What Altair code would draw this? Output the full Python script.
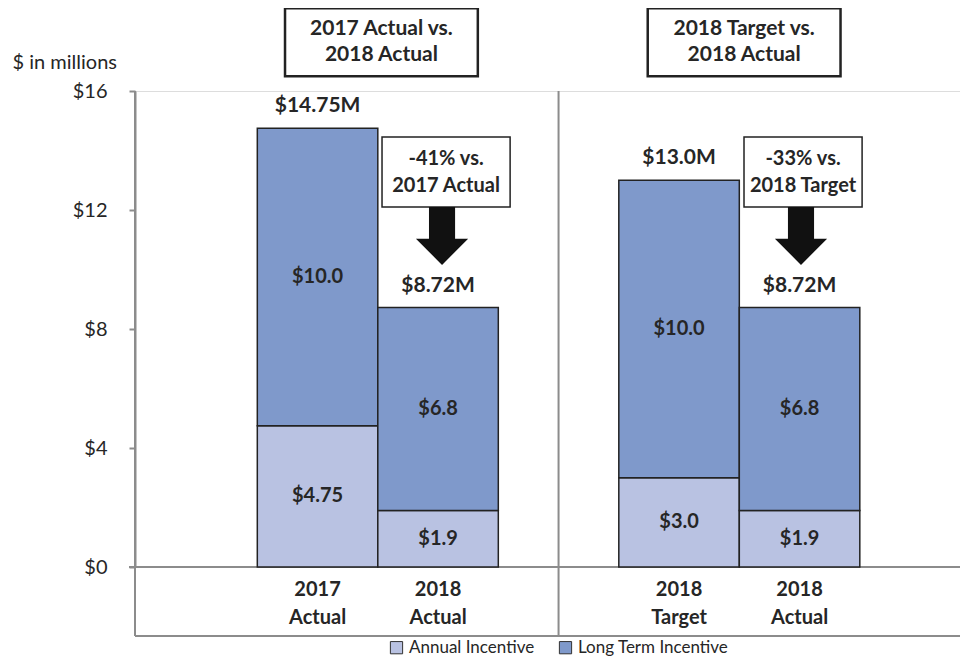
import altair as alt
import pandas as pd

# ---- data ----
cat_line1 = ["2017", "2018", "2018", "2018"]
cat_line2 = ["Actual", "Actual", "Target", "Actual"]
positions = [0, 1, 3, 4]
annual = [4.75, 1.9, 3.0, 1.9]
long_term = [10.0, 6.82, 10.0, 6.82]
annual_labels = ["$4.75", "$1.9", "$3.0", "$1.9"]
long_term_labels = ["$10.0", "$6.8", "$10.0", "$6.8"]
total_labels = ["$14.75M", "$8.72M", "$13.0M", "$8.72M"]
series = ["Annual Incentive", "Long Term Incentive"]
colors = ["#B9C2E2", "#7F99CB"]

header_texts = ["2017 Actual vs.\n2018 Actual", "2018 Target vs.\n2018 Actual"]
header_x = [-0.27, 2.74]
header_x2 = [1.33, 4.34]
header_y = [16.5, 16.5]
header_y2 = [18.78, 18.78]

change_texts = ["-41% vs.\n2017 Actual", "-33% vs.\n2018 Target"]
change_x = [0.535, 3.539]
change_x2 = [1.598, 4.519]
change_y = [12.10, 12.10]
change_y2 = [14.45, 14.45]
arrow_x = [1.033, 4.012]
arrow_y = [11.13, 11.13]

y_ticks = [0, 4, 8, 12, 16]

W, H = 825, 476
FONT = "Lato"
TXT = "#262626"
GREY = "#8C8C8C"

# ---- tables ----
rows = []
for i, p in enumerate(positions):
    rows.append(dict(pos=p, x0=p - 0.5, x1=p + 0.5, series=series[0], y0=0.0,
                     y1=annual[i], mid=annual[i] / 2, label=annual_labels[i]))
    rows.append(dict(pos=p, x0=p - 0.5, x1=p + 0.5, series=series[1], y0=annual[i],
                     y1=annual[i] + long_term[i], mid=annual[i] + long_term[i] / 2,
                     label=long_term_labels[i]))
bars_df = pd.DataFrame(rows)

tot_df = pd.DataFrame(dict(pos=positions,
                           total=[a + b for a, b in zip(annual, long_term)],
                           label=total_labels,
                           cat=[a + "\n" + b for a, b in zip(cat_line1, cat_line2)]))

hdr_df = pd.DataFrame(dict(x=header_x, x2=header_x2, y=header_y, y2=header_y2,
                           text=header_texts,
                           xm=[(a + b) / 2 for a, b in zip(header_x, header_x2)],
                           ym=[(a + b) / 2 for a, b in zip(header_y, header_y2)]))
chg_df = pd.DataFrame(dict(x=change_x, x2=change_x2, y=change_y, y2=change_y2,
                           text=change_texts,
                           xm=[(a + b) / 2 for a, b in zip(change_x, change_x2)],
                           ym=[(a + b) / 2 for a, b in zip(change_y, change_y2)]))
arr_df = pd.DataFrame(dict(x=arrow_x, y=arrow_y))

xscale = alt.Scale(domain=[-1.515, -1.515 + W / 120.5], nice=False, zero=False)
yscale = alt.Scale(domain=[0, 16], nice=False)

one = pd.DataFrame({"k": [0]})

# ---- frame rules ----
div_rule = alt.Chart(pd.DataFrame({"x": [2]})).mark_rule(color=GREY, strokeWidth=2).encode(
    x=alt.X("x:Q", scale=xscale, axis=None), y=alt.value(0), y2=alt.value(H + 69))
base_rule = alt.Chart(one).mark_rule(color=GREY, strokeWidth=2).encode(
    x=alt.value(-6), x2=alt.value(W), y=alt.value(H))
bottom_rule = alt.Chart(one).mark_rule(color=GREY, strokeWidth=2).encode(
    x=alt.value(0), x2=alt.value(W), y=alt.value(H + 69))
left_rule = alt.Chart(one).mark_rule(color=GREY, strokeWidth=2).encode(
    x=alt.value(0), y=alt.value(0), y2=alt.value(H + 69))

# ---- bars ----
bars = alt.Chart(bars_df).mark_rect(stroke="#222222", strokeWidth=1.5).encode(
    x=alt.X("x0:Q", scale=xscale, axis=None),
    x2="x1",
    y=alt.Y("y0:Q", scale=yscale,
            axis=alt.Axis(values=y_ticks, labelExpr="'$' + datum.value", grid=False,
                          domainColor=GREY, domainWidth=2, tickColor=GREY, tickWidth=2,
                          tickSize=6, labelPadding=22, labelFontSize=20, labelFont=FONT,
                          labelColor=TXT, title="$ in millions", titleAngle=0,
                          titleAlign="left", titleBaseline="middle", titleX=-123,
                          titleY=-29, titleFont=FONT, titleFontSize=20,
                          titleFontWeight="normal", titleColor=TXT)),
    y2="y1",
    color=alt.Color("series:N", scale=alt.Scale(domain=series, range=colors),
                    legend=alt.Legend(orient="none", legendX=253, legendY=548,
                                      direction="horizontal", title=None,
                                      symbolType="square", symbolSize=150,
                                      symbolStrokeColor="#333333", symbolStrokeWidth=1,
                                      labelFont=FONT, labelFontSize=17, labelColor=TXT,
                                      columnPadding=22, labelOffset=4, padding=0)),
)

seg_text = alt.Chart(bars_df).mark_text(font=FONT, fontSize=20, fontWeight="bold",
                                        color=TXT, baseline="middle").encode(
    x=alt.X("pos:Q", scale=xscale), y=alt.Y("mid:Q", scale=yscale), text="label:N")

tot_text = alt.Chart(tot_df).mark_text(font=FONT, fontSize=21, fontWeight="bold",
                                       color=TXT, baseline="middle", dy=-22).encode(
    x=alt.X("pos:Q", scale=xscale), y=alt.Y("total:Q", scale=yscale), text="label:N")

cat_text = alt.Chart(tot_df).mark_text(font=FONT, fontSize=20, fontWeight="bold",
                                       color=TXT, baseline="middle", lineBreak="\n",
                                       lineHeight=28).encode(
    x=alt.X("pos:Q", scale=xscale), y=alt.value(H + 23), text="cat:N")

# ---- header boxes ----
hdr_box = alt.Chart(hdr_df).mark_rect(fill="white", stroke="#222222", strokeWidth=2.5).encode(
    x=alt.X("x:Q", scale=xscale), x2="x2", y=alt.Y("y:Q", scale=yscale), y2="y2")
hdr_text = alt.Chart(hdr_df).mark_text(font=FONT, fontSize=21, fontWeight="bold", color=TXT,
                                       baseline="middle", lineBreak="\n", lineHeight=26,
                                       dy=-13).encode(
    x=alt.X("xm:Q", scale=xscale), y=alt.Y("ym:Q", scale=yscale), text="text:N")

chg_box = alt.Chart(chg_df).mark_rect(fill="white", stroke="#222222", strokeWidth=1.5).encode(
    x=alt.X("x:Q", scale=xscale), x2="x2", y=alt.Y("y:Q", scale=yscale), y2="y2")
chg_text = alt.Chart(chg_df).mark_text(font=FONT, fontSize=20, fontWeight="bold", color=TXT,
                                       baseline="middle", lineBreak="\n", lineHeight=27,
                                       dy=-13.5).encode(
    x=alt.X("xm:Q", scale=xscale), y=alt.Y("ym:Q", scale=yscale), text="text:N")

arrow_path = "M-0.45,-1 L0.45,-1 L0.45,0.1 L0.9,0.1 L0,1 L-0.9,0.1 L-0.45,0.1 Z"
arrows = alt.Chart(arr_df).mark_point(shape=arrow_path, size=3364, filled=True,
                                      fill="#111111", color="#111111", opacity=1,
                                      strokeWidth=0).encode(
    x=alt.X("x:Q", scale=xscale), y=alt.Y("y:Q", scale=yscale))

chart = alt.layer(
    div_rule, base_rule, bottom_rule, left_rule,
    bars, seg_text, tot_text, cat_text,
    hdr_box, hdr_text, chg_box, chg_text, arrows,
).properties(
    width=W, height=H,
    autosize=alt.AutoSizeParams(type="none"),
    padding={"left": 127, "top": 83, "right": 0, "bottom": 92},
).configure_view(stroke=None).configure(background="white")

chart.save("out.html", embed_options={"renderer": "svg", "actions": False})
